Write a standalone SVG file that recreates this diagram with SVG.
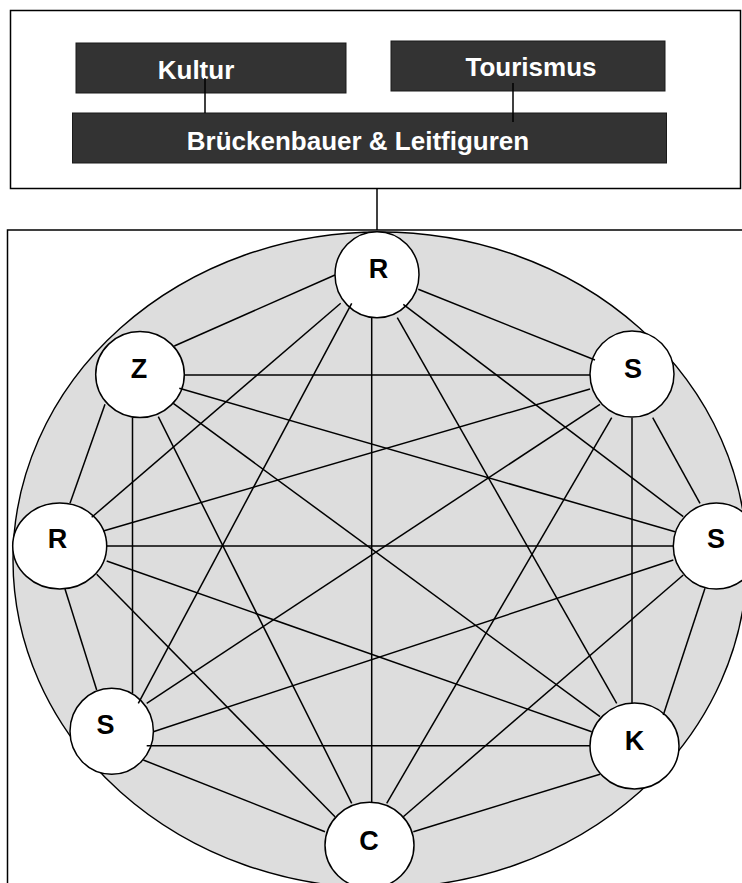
<svg xmlns="http://www.w3.org/2000/svg" width="742" height="883" viewBox="0 0 742 883">
<style>
.frame{fill:#ffffff;stroke:#000;stroke-width:1.5}
.dark{fill:#333333;stroke:#1a1a1a;stroke-width:1}
.dtxt{fill:#ffffff;font-family:"Liberation Sans",Arial,sans-serif;font-weight:bold;font-size:26px;text-anchor:middle}
.node{fill:#ffffff;stroke:#000;stroke-width:1.5}
.ntxt{fill:#000;font-family:"Liberation Sans",Arial,sans-serif;font-weight:bold;font-size:27px;text-anchor:middle}
.edge{stroke:#000;stroke-width:1.5;fill:none}
</style>
<rect width="742" height="883" fill="#ffffff"/>
<g id="top-frame">
<rect class="frame" x="10.5" y="10.5" width="730" height="178"/>
</g>
<g id="kultur">
<rect class="dark" x="76" y="43" width="270" height="50"/>
<text class="dtxt" x="196" y="79">Kultur</text>
</g>
<g id="tourismus">
<rect class="dark" x="391" y="41" width="274" height="50"/>
<text class="dtxt" x="531" y="76">Tourismus</text>
</g>
<g id="brueckenbauer">
<rect class="dark" x="72.5" y="113" width="594" height="50"/>
<text class="dtxt" x="358" y="150">Brückenbauer &amp; Leitfiguren</text>
</g>
<g id="bottom-frame">
<rect class="frame" x="7.5" y="230" width="800" height="700"/>
<ellipse cx="380" cy="560" rx="367" ry="328" fill="#dddddd" stroke="#000" stroke-width="1.4"/>
</g>
<g id="top-connectors">
<line class="edge" x1="205" y1="78" x2="205" y2="113"/>
<line class="edge" x1="513" y1="83" x2="513" y2="122"/>
<line class="edge" x1="377" y1="188.5" x2="377" y2="230"/>
</g>
<g id="node-R-top"><ellipse class="node" cx="377" cy="274.7" rx="42" ry="43"/><text class="ntxt" x="378.5" y="278.3">R</text></g>
<g id="node-Z"><ellipse class="node" cx="140" cy="374.5" rx="44.3" ry="43"/><text class="ntxt" x="139" y="378.3">Z</text></g>
<g id="node-S-topright"><ellipse class="node" cx="632" cy="374" rx="42" ry="43"/><text class="ntxt" x="633" y="378.3">S</text></g>
<g id="node-R-left"><ellipse class="node" cx="59.7" cy="546" rx="47" ry="43"/><text class="ntxt" x="57.5" y="548.3">R</text></g>
<g id="node-S-right"><ellipse class="node" cx="716.3" cy="546" rx="43" ry="43"/><text class="ntxt" x="716" y="548.3">S</text></g>
<g id="node-S-bottomleft"><ellipse class="node" cx="111.7" cy="731.3" rx="41.7" ry="43"/><text class="ntxt" x="105.5" y="734.3">S</text></g>
<g id="node-K"><ellipse class="node" cx="634.5" cy="746" rx="44.5" ry="43"/><text class="ntxt" x="634.5" y="750">K</text></g>
<g id="node-C"><ellipse class="node" cx="369.5" cy="845.3" rx="44.5" ry="43"/><text class="ntxt" x="369" y="850">C</text></g>
<g id="connectors">
<line class="edge" x1="335" y1="275" x2="174.3" y2="346"/>
<line class="edge" x1="418.3" y1="289.3" x2="595" y2="360"/>
<line class="edge" x1="340.7" y1="303.3" x2="91.7" y2="517.3"/>
<line class="edge" x1="351.7" y1="303.3" x2="138.3" y2="703.3"/>
<line class="edge" x1="371.7" y1="318" x2="371.7" y2="803"/>
<line class="edge" x1="397.3" y1="317.7" x2="616.7" y2="703.3"/>
<line class="edge" x1="403.3" y1="304.3" x2="683.3" y2="516.7"/>
<line class="edge" x1="184.3" y1="375" x2="590" y2="375"/>
<line class="edge" x1="179.3" y1="388.3" x2="675" y2="531.7"/>
<line class="edge" x1="173.3" y1="403.3" x2="600" y2="716.7"/>
<line class="edge" x1="158.3" y1="416.7" x2="351.7" y2="803.3"/>
<line class="edge" x1="132.5" y1="418" x2="132.5" y2="693.3"/>
<line class="edge" x1="105" y1="404.3" x2="70" y2="503.3"/>
<line class="edge" x1="590" y1="389" x2="103.3" y2="531"/>
<line class="edge" x1="600" y1="404.3" x2="146.7" y2="703.3"/>
<line class="edge" x1="611.7" y1="417.7" x2="386.7" y2="803.3"/>
<line class="edge" x1="632" y1="417.7" x2="632" y2="703.3"/>
<line class="edge" x1="652.7" y1="417.7" x2="700" y2="503.3"/>
<line class="edge" x1="106.7" y1="546" x2="673.3" y2="546"/>
<line class="edge" x1="673.3" y1="560" x2="153.3" y2="731.7"/>
<line class="edge" x1="683.3" y1="575" x2="403.3" y2="816.7"/>
<line class="edge" x1="705" y1="588.3" x2="663.3" y2="715"/>
<line class="edge" x1="106.7" y1="561" x2="591.7" y2="731.7"/>
<line class="edge" x1="146.7" y1="745.7" x2="590" y2="745.7"/>
<line class="edge" x1="600" y1="774.3" x2="413.3" y2="831.7"/>
<line class="edge" x1="65" y1="589" x2="96.7" y2="690"/>
<line class="edge" x1="143.3" y1="760" x2="325" y2="831.7"/>
<line class="edge" x1="96.7" y1="574.3" x2="335" y2="816.7"/>
</g>
</svg>
